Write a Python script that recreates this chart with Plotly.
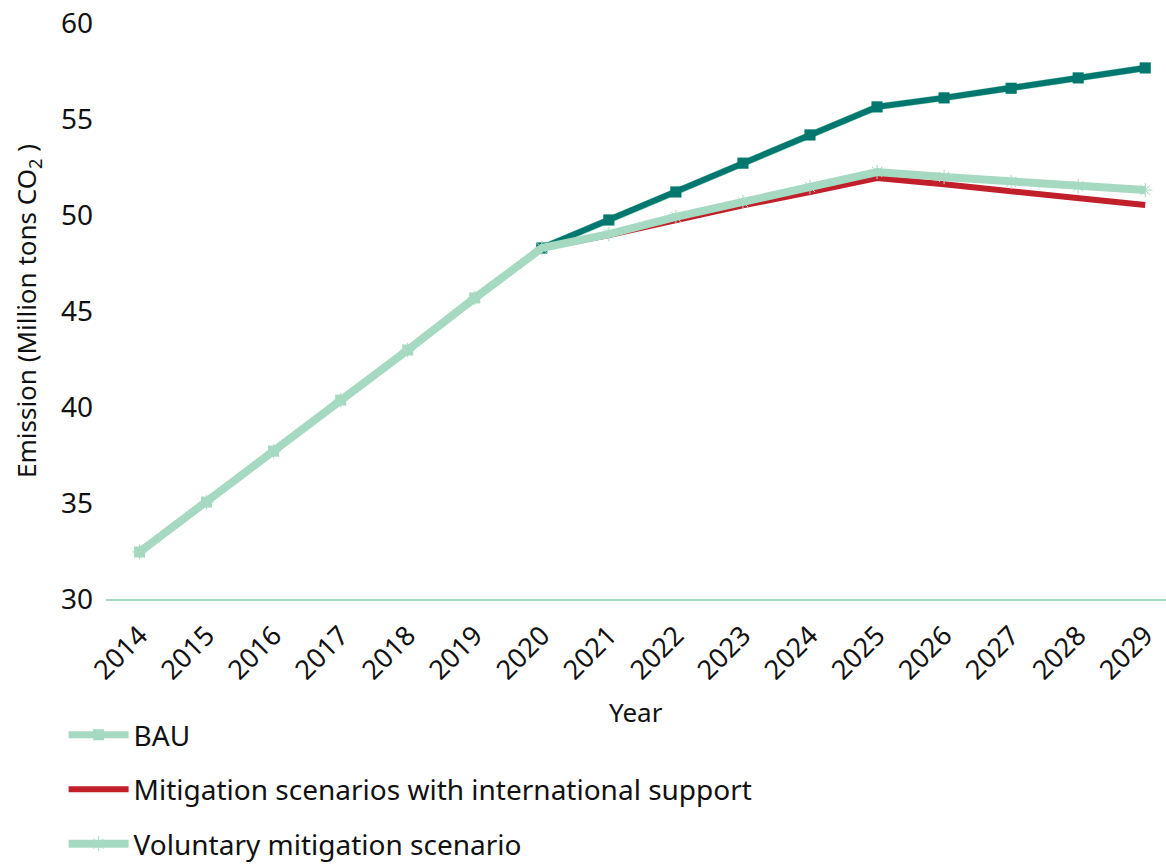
import plotly.graph_objects as go

years = [str(y) for y in range(2014, 2030)]

bau = [32.45, 35.05, 37.7, 40.36, 42.97, 45.68, 48.28,
       49.74, 51.2, 52.7, 54.17, 55.63, 56.1, 56.6, 57.14, 57.66]
mitigation = [32.45, 35.05, 37.7, 40.36, 42.97, 45.68, 48.28,
              48.95, 49.74, 50.5, 51.2, 51.93, 51.6, 51.25, 50.9, 50.52]
voluntary = [32.45, 35.05, 37.7, 40.36, 42.97, 45.68, 48.28,
             49.0, 49.9, 50.68, 51.46, 52.24, 51.98, 51.72, 51.5, 51.3]

TEAL = "#00786F"
RED = "#C11F2A"
MINT = "#A6D9C1"
FONT = "Noto Sans"

fig = go.Figure()

# BAU series: mint for the historical part, teal for the projection
fig.add_trace(go.Scatter(
    x=years, y=bau, name="BAU", mode="lines+markers",
    line=dict(color=MINT, width=7),
    marker=dict(symbol="square", size=11, color=MINT),
    legendgroup="a",
))
fig.add_trace(go.Scatter(
    x=years[6:], y=bau[6:], name="BAU", mode="lines+markers",
    line=dict(color=TEAL, width=6),
    marker=dict(symbol="square", size=11, color=TEAL),
    showlegend=False,
))
fig.add_trace(go.Scatter(
    x=years, y=mitigation, name="Mitigation scenarios with international support",
    mode="lines", line=dict(color=RED, width=6),
    legendgroup="b",
))
fig.add_trace(go.Scatter(
    x=years, y=voluntary, name="Voluntary mitigation scenario",
    mode="lines+markers",
    line=dict(color=MINT, width=8),
    marker=dict(symbol="asterisk-open", size=12, color=MINT,
                line=dict(color=MINT, width=1)),
    legendgroup="c",
))

fig.update_layout(
    width=1166, height=865,
    margin=dict(l=106, r=0, t=23, b=266),
    paper_bgcolor="white", plot_bgcolor="white",
    font=dict(family=FONT, size=26, color="#111111"),
    showlegend=True,
    legend=dict(
        x=-0.04, xanchor="left",
        y=0.179, yref="container", yanchor="top",
        orientation="v", traceorder="grouped", tracegroupgap=15,
        font=dict(size=28, color="#111111"),
        itemwidth=60,
    ),
    annotations=[dict(
        text="Year", x=0.5, y=-0.196, xref="paper", yref="paper",
        xanchor="center", yanchor="middle", showarrow=False,
        font=dict(size=26, color="#111111"),
    )],
)
fig.update_xaxes(
    type="category", range=[-0.5, 15.31], automargin=False,
    showline=True, linecolor=MINT, linewidth=2,
    showgrid=False, ticks="", tickangle=-45,
    tickfont=dict(size=27),
    ticklabelstandoff=8,
)
fig.update_yaxes(
    range=[30, 60], dtick=5, tick0=30, automargin=False,
    showline=False, showgrid=False, zeroline=False, ticks="",
    tickfont=dict(size=28),
    ticklabelstandoff=12,
    title=dict(text="Emission (Million tons CO<sub>2</sub> )", font=dict(size=26), standoff=16),
)

fig.write_html("out.html")
